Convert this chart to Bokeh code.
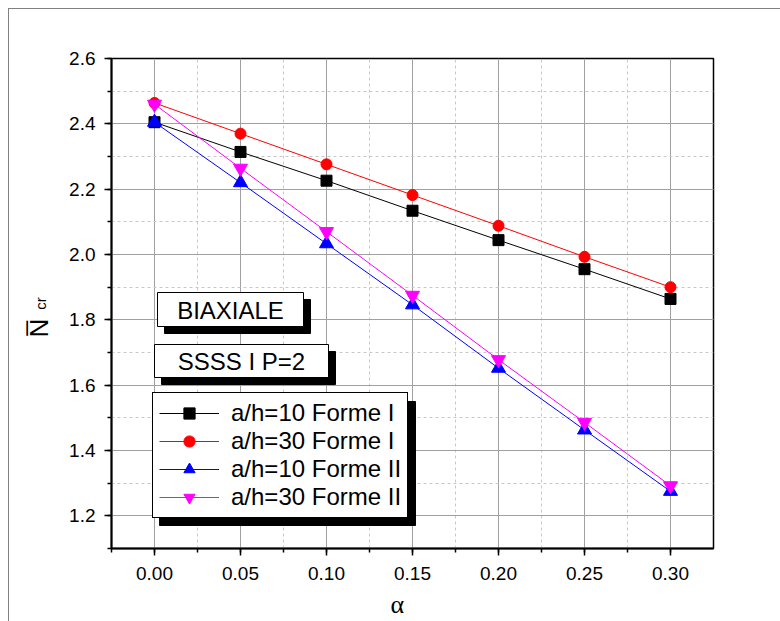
from bokeh.plotting import figure
from bokeh.models import (Legend, LegendItem, Label, BoxAnnotation, SingleIntervalTicker,
                          NumeralTickFormatter, Range1d, Title)
from bokeh.embed import file_html
from bokeh.resources import INLINE

# ---------------- data ----------------
alpha = [0.00, 0.05, 0.10, 0.15, 0.20, 0.25, 0.30]
n_ah10_forme1 = [2.405, 2.314, 2.226, 2.134, 2.044, 1.955, 1.864]
n_ah30_forme1 = [2.464, 2.370, 2.276, 2.182, 2.088, 1.993, 1.900]
n_ah10_forme2 = [2.405, 2.220, 2.033, 1.846, 1.652, 1.463, 1.275]
n_ah30_forme2 = [2.460, 2.264, 2.070, 1.875, 1.678, 1.486, 1.292]
series_labels = ["a/h=10 Forme I", "a/h=30 Forme I", "a/h=10 Forme II", "a/h=30 Forme II"]
box_texts = ["BIAXIALE", "SSSS I P=2"]
x_label = "\u03b1"
y_label = "N\u0305"
y_label_sub = "cr"

# ---------------- layout geometry (page pixels) ----------------
PAGE_W, PAGE_H = 780, 621
OFF = 9                       # canvas origin on the page (margin 8 + 1px border)
X0, X1 = -0.025, 0.325
Y0, Y1 = 1.1, 2.6
F_LEFT, F_TOP, F_W, F_H = 111, 58, 602, 490


def xd(px):
    return X0 + (px - F_LEFT) / F_W * (X1 - X0)


def yd(py):
    return Y1 - (py - F_TOP) / F_H * (Y1 - Y0)


CW, CH = PAGE_W - OFF, PAGE_H - OFF
p = figure(frame_width=F_W, frame_height=F_H,
           min_border_left=F_LEFT - OFF, min_border_top=F_TOP - OFF,
           min_border_right=CW - (F_LEFT - OFF) - F_W, min_border_bottom=CH - (F_TOP - OFF) - F_H,
           x_range=Range1d(X0, X1), y_range=Range1d(Y0, Y1),
           output_backend="svg", toolbar_location=None,
           styles={"margin-left": "8px", "margin-top": "8px",
                   "border-left": "1px solid #808080", "border-top": "1px solid #808080"})
p.background_fill_color = "white"
p.border_fill_color = "white"

xt = SingleIntervalTicker(interval=0.05, num_minor_ticks=2)
yt = SingleIntervalTicker(interval=0.2, num_minor_ticks=2)
p.xaxis.ticker = xt
p.xgrid.ticker = xt
p.yaxis.ticker = yt
p.ygrid.ticker = yt
p.xaxis.formatter = NumeralTickFormatter(format="0.00")
p.yaxis.formatter = NumeralTickFormatter(format="0.0")

for ax in (p.xaxis[0], p.yaxis[0]):
    ax.axis_line_width = 2
    ax.axis_line_color = "black"
    ax.major_tick_line_width = 1.5
    ax.minor_tick_line_width = 1.5
    ax.major_tick_line_color = "black"
    ax.minor_tick_line_color = "black"
    ax.major_tick_in = 0
    ax.major_tick_out = 7
    ax.minor_tick_in = 0
    ax.minor_tick_out = 4
    ax.major_label_text_font = "Liberation Sans"
    ax.major_label_text_font_size = "19px"
    ax.major_label_text_color = "black"
p.xaxis.major_label_standoff = 11
p.yaxis.major_label_standoff = 9

# subscript "cr" of the y title, as the y axis label
p.yaxis.axis_label = y_label_sub
p.yaxis.axis_label_text_font = "Liberation Sans"
p.yaxis.axis_label_text_font_size = "15px"
p.yaxis.axis_label_text_font_style = "normal"
p.yaxis.axis_label_text_color = "black"
p.yaxis.axis_label_standoff = 17

p.grid.grid_line_color = "#a0a0a0"
p.grid.grid_line_width = 1
p.grid.minor_grid_line_color = "#c8c8c8"
p.grid.minor_grid_line_dash = "3 3"
p.grid.minor_grid_line_width = 1

p.outline_line_color = "black"
p.outline_line_width = 1.5
p.outline_line_alpha = 1

# ---------------- series ----------------
series = [
    (n_ah10_forme1, "black", "square", 11),
    (n_ah30_forme1, "red", "circle", 11),
    (n_ah10_forme2, "blue", "triangle", 14),
    (n_ah30_forme2, "#ff00ff", "inverted_triangle", 14),
]
items = []
for (vals, col, mk, sz), lab in zip(series, series_labels):
    ln = p.line(alpha, vals, line_color=col, line_width=1)
    sc = p.scatter(alpha, vals, marker=mk, size=sz, fill_color=col, line_color=col)
    items.append(LegendItem(label=lab, renderers=[ln, sc]))

# ---------------- text boxes with shadows ----------------
SH = 7


def shadow_box(l, t, r, b):
    p.add_layout(BoxAnnotation(left=xd(l + SH), right=xd(r + SH), top=yd(t + SH), bottom=yd(b + SH),
                               fill_color="black", fill_alpha=1, line_color="black", line_alpha=1))
    p.add_layout(BoxAnnotation(left=xd(l), right=xd(r), top=yd(t), bottom=yd(b),
                               fill_color="white", fill_alpha=1, line_color="black",
                               line_width=1, line_alpha=1))


shadow_box(157, 292, 303, 326)
p.add_layout(Label(x=xd(230), y=yd(309.5), text=box_texts[0], text_align="center",
                   text_baseline="middle", text_font="Liberation Sans", text_font_size="24px",
                   text_color="black"))
shadow_box(154, 344, 328, 377)
p.add_layout(Label(x=xd(241), y=yd(361), text=box_texts[1], text_align="center",
                   text_baseline="middle", text_font="Liberation Sans", text_font_size="24px",
                   text_color="black"))

# legend shadow (legend spans approx 152..408 x 394..518)
p.add_layout(BoxAnnotation(left=xd(152 + SH), right=xd(408 + SH), top=yd(394 + SH), bottom=yd(518 + SH),
                           fill_color="black", fill_alpha=1, line_color="black", line_alpha=1))

legend = Legend(items=items, location=(41, 30), margin=0, padding=6, spacing=0,
                label_height=28, glyph_height=28, glyph_width=60, label_standoff=12,
                label_text_font="Liberation Sans", label_text_font_size="24px",
                label_text_color="black",
                border_line_color="black", border_line_width=1, border_line_alpha=1,
                background_fill_color="white", background_fill_alpha=1)
p.add_layout(legend)

# ---------------- axis titles (side-panel titles, not clipped) ----------------
p.add_layout(Title(text=x_label, align="left", offset=390 - F_LEFT, vertical_align="bottom",
                   standoff=10, text_font="Liberation Serif", text_font_size="26px",
                   text_font_style="normal", text_color="black"), "below")
p.add_layout(Title(text=y_label, align="left", offset=F_TOP + F_H - 337, vertical_align="bottom",
                   standoff=-48, text_font="Liberation Sans", text_font_size="26px",
                   text_font_style="normal", text_color="black"), "left")

open("out.html", "w").write(file_html(p, INLINE))
